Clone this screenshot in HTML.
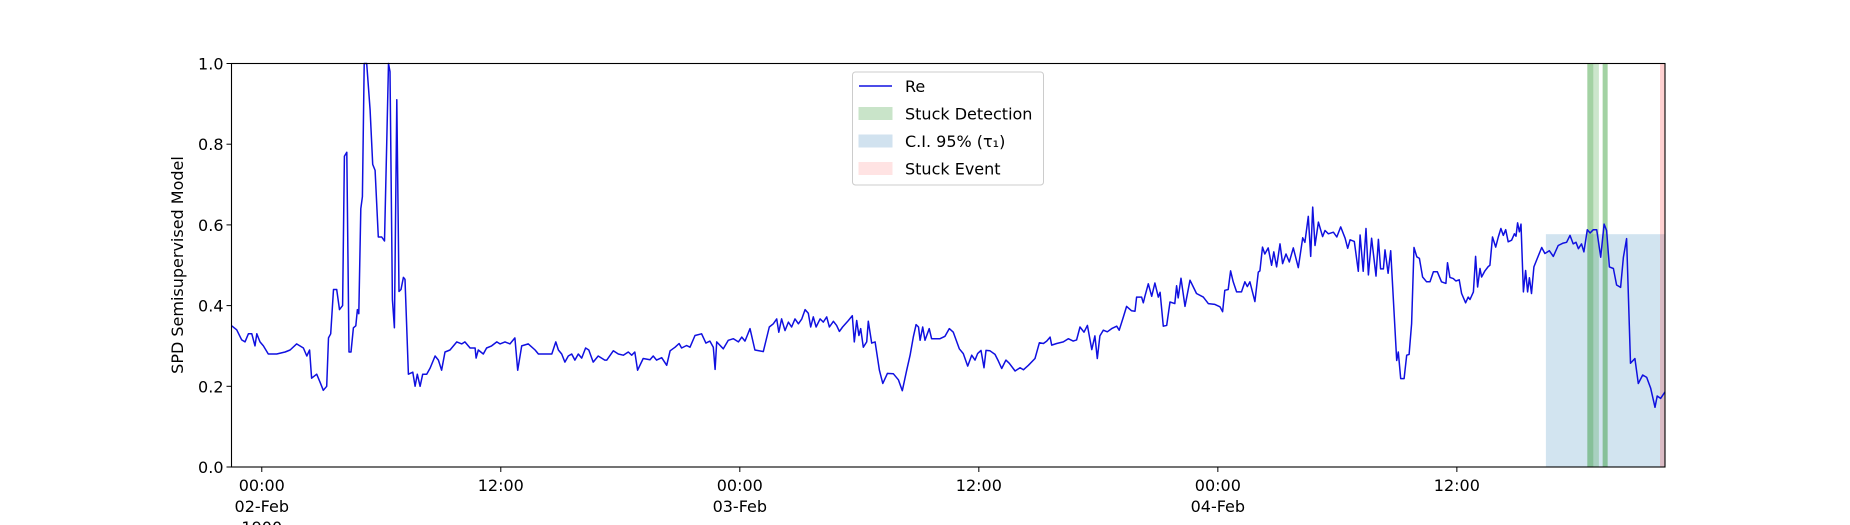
<!DOCTYPE html>
<html><head><meta charset="utf-8"><style>
body{margin:0;background:#fff;}
svg{display:block;font-family:"DejaVu Sans","Liberation Sans",sans-serif;}
</style></head><body>
<svg id="chart" width="1850" height="525" viewBox="0 0 1850 525" xmlns="http://www.w3.org/2000/svg"></svg>
<script>
const times=[-1.51,-1.26,-1.01,-0.84,-0.67,-0.5,-0.34,-0.25,-0.09,0.08,0.33,0.75,1.17,1.42,1.75,2.09,2.26,2.4,2.5,2.76,2.93,3.09,3.26,3.35,3.46,3.6,3.76,3.9,4.06,4.15,4.27,4.38,4.48,4.6,4.72,4.8,4.87,4.97,5.05,5.14,5.27,5.44,5.57,5.69,5.85,6.02,6.16,6.27,6.36,6.44,6.56,6.66,6.78,6.89,6.99,7.11,7.19,7.36,7.58,7.7,7.81,7.95,8.08,8.28,8.45,8.7,8.87,9.03,9.2,9.45,9.79,10.04,10.2,10.46,10.71,10.76,10.87,11.12,11.29,11.54,11.8,11.96,12.21,12.46,12.71,12.85,13.05,13.38,13.72,13.89,14.22,14.56,14.76,14.89,15.06,15.22,15.39,15.56,15.72,15.89,16.06,16.26,16.42,16.64,16.89,17.22,17.32,17.65,17.9,18.15,18.4,18.57,18.73,18.87,19.15,19.49,19.65,19.82,20.08,20.33,20.5,20.75,20.95,21.08,21.33,21.5,21.75,22.08,22.3,22.5,22.67,22.76,22.84,23.17,23.42,23.68,23.93,24.1,24.26,24.51,24.76,25.18,25.48,25.68,25.85,25.96,26.1,26.27,26.44,26.6,26.77,26.94,27.11,27.28,27.44,27.56,27.69,27.83,28.03,28.19,28.36,28.5,28.7,28.86,29.0,29.16,29.45,29.65,29.75,29.87,29.98,30.07,30.2,30.37,30.45,30.62,30.79,31.01,31.18,31.41,31.71,31.96,32.16,32.38,32.55,32.71,32.85,32.97,33.05,33.18,33.3,33.51,33.63,34.05,34.3,34.52,34.72,35.02,35.22,35.44,35.64,35.81,35.94,36.11,36.26,36.36,36.56,36.81,36.98,37.15,37.36,37.53,37.82,38.07,38.24,38.49,38.82,39.04,39.24,39.41,39.58,39.66,39.91,40.24,40.49,40.74,40.91,41.08,41.28,41.45,41.67,41.83,41.95,42.08,42.25,42.45,42.67,42.92,43.05,43.26,43.42,43.67,43.84,43.92,44.17,44.26,44.34,44.51,44.68,44.84,45.01,45.1,45.26,45.43,45.6,45.84,45.93,46.01,46.15,46.35,46.6,46.93,47.27,47.52,47.85,48.11,48.24,48.35,48.52,48.64,48.77,48.94,49.19,49.36,49.48,49.61,49.86,50.03,50.11,50.24,50.36,50.53,50.7,50.81,50.95,51.12,51.25,51.42,51.59,51.79,52.04,52.26,52.37,52.54,52.66,52.76,52.88,53.05,53.26,53.38,53.55,53.8,53.97,54.17,54.39,54.52,54.64,54.85,55.05,55.14,55.3,55.44,55.56,55.72,55.94,56.06,56.17,56.31,56.39,56.55,56.68,56.98,57.06,57.18,57.35,57.48,57.6,57.73,57.85,57.99,58.12,58.28,58.48,58.65,58.82,59.02,59.23,59.45,59.53,59.65,59.82,59.95,60.12,60.24,60.44,60.57,60.66,60.83,60.94,61.04,61.16,61.24,61.41,61.58,61.66,61.79,61.95,62.08,62.21,62.33,62.45,62.58,62.75,62.89,62.97,63.05,63.14,63.22,63.34,63.45,63.55,63.64,63.75,63.87,64.04,64.26,64.42,64.64,64.84,65.09,65.34,65.51,65.68,65.84,65.98,66.1,66.26,66.38,66.55,66.69,66.85,67.02,67.22,67.39,67.52,67.66,67.86,68.02,68.22,68.36,68.52,68.72,68.94,69.11,69.33,69.53,69.73,69.95,70.06,70.23,70.45];
const values=[0.35,0.34,0.315,0.31,0.33,0.33,0.30,0.33,0.31,0.30,0.28,0.28,0.285,0.29,0.305,0.295,0.275,0.29,0.22,0.23,0.21,0.19,0.20,0.32,0.33,0.44,0.44,0.39,0.40,0.77,0.78,0.285,0.285,0.345,0.35,0.39,0.38,0.64,0.67,1.0,1.0,0.885,0.75,0.735,0.57,0.57,0.56,0.80,1.0,0.98,0.415,0.345,0.91,0.435,0.44,0.47,0.465,0.23,0.235,0.20,0.23,0.20,0.23,0.23,0.245,0.275,0.265,0.24,0.285,0.29,0.31,0.305,0.31,0.295,0.295,0.27,0.29,0.28,0.295,0.30,0.31,0.305,0.31,0.305,0.32,0.24,0.30,0.305,0.29,0.28,0.28,0.28,0.31,0.29,0.28,0.26,0.275,0.28,0.265,0.28,0.27,0.295,0.29,0.26,0.275,0.265,0.265,0.288,0.28,0.277,0.285,0.277,0.285,0.24,0.269,0.266,0.275,0.265,0.271,0.252,0.288,0.297,0.306,0.295,0.301,0.297,0.326,0.33,0.307,0.312,0.297,0.242,0.31,0.293,0.314,0.318,0.31,0.322,0.312,0.343,0.29,0.286,0.347,0.355,0.367,0.334,0.367,0.338,0.359,0.347,0.367,0.355,0.367,0.39,0.381,0.347,0.372,0.347,0.367,0.359,0.372,0.347,0.361,0.351,0.336,0.347,0.363,0.375,0.31,0.363,0.326,0.343,0.297,0.31,0.361,0.307,0.31,0.24,0.207,0.232,0.231,0.216,0.189,0.24,0.277,0.322,0.353,0.347,0.314,0.347,0.314,0.343,0.318,0.318,0.324,0.343,0.334,0.293,0.281,0.25,0.277,0.265,0.281,0.289,0.246,0.289,0.288,0.279,0.263,0.244,0.265,0.257,0.238,0.246,0.241,0.252,0.269,0.308,0.306,0.312,0.322,0.302,0.306,0.31,0.318,0.312,0.315,0.347,0.334,0.351,0.291,0.325,0.269,0.325,0.339,0.335,0.343,0.349,0.339,0.372,0.398,0.387,0.386,0.421,0.421,0.407,0.423,0.454,0.423,0.456,0.421,0.433,0.349,0.351,0.409,0.405,0.449,0.419,0.468,0.398,0.463,0.43,0.421,0.405,0.403,0.397,0.385,0.438,0.44,0.486,0.459,0.434,0.434,0.459,0.447,0.459,0.41,0.483,0.486,0.545,0.528,0.543,0.5,0.533,0.496,0.553,0.504,0.528,0.508,0.543,0.494,0.568,0.557,0.621,0.522,0.644,0.549,0.607,0.571,0.586,0.578,0.582,0.57,0.595,0.567,0.542,0.563,0.559,0.485,0.575,0.485,0.591,0.476,0.567,0.473,0.564,0.491,0.491,0.538,0.48,0.536,0.264,0.285,0.219,0.219,0.277,0.279,0.355,0.544,0.521,0.517,0.471,0.459,0.459,0.484,0.484,0.459,0.455,0.506,0.47,0.467,0.461,0.464,0.43,0.407,0.421,0.415,0.434,0.522,0.446,0.492,0.471,0.486,0.497,0.5,0.57,0.545,0.57,0.591,0.574,0.588,0.558,0.562,0.578,0.572,0.605,0.583,0.602,0.434,0.487,0.434,0.469,0.43,0.496,0.517,0.544,0.529,0.536,0.522,0.549,0.555,0.557,0.574,0.553,0.557,0.541,0.553,0.533,0.588,0.58,0.588,0.588,0.52,0.602,0.586,0.496,0.492,0.451,0.445,0.52,0.566,0.257,0.269,0.207,0.228,0.222,0.195,0.148,0.176,0.17,0.186];
const xTicks=[0,12,24,36,48,60];
const xTickLabels=[["00:00","02-Feb","1900"],["12:00"],["00:00","03-Feb"],["12:00"],["00:00","04-Feb"],["12:00"]];
const yTicks=[0,0.2,0.4,0.6,0.8,1.0];
const yTickLabels=["0.0","0.2","0.4","0.6","0.8","1.0"];
const detStarts=[66.55,66.55,67.32,67.32];
const detEnds=[66.85,67.13,67.57,67.57];
const ciStart=64.47, ciEnd=70.45, ciUpper=0.577;
const eventStart=70.2, eventEnd=70.45;
const xMin=-1.52, xMax=70.45;

const L=231.5,R=1665,T=63.5,B=467;
const X=h=>L+(h-xMin)/(xMax-xMin)*(R-L);
const Y=v=>B-v*(B-T);
const svg=document.getElementById('chart');
const NS='http://www.w3.org/2000/svg';
function mk(tag,attrs,parent){const e=document.createElementNS(NS,tag);for(const k in attrs)e.setAttribute(k,attrs[k]);(parent||svg).appendChild(e);return e;}

const ci=mk('rect',{x:X(ciStart),y:Y(ciUpper),width:X(ciEnd)-X(ciStart),height:B-Y(ciUpper),fill:'#1f77b4','fill-opacity':0.2});


for(let i=0;i<detStarts.length;i++){
  const r=mk('rect',{x:X(detStarts[i]),y:T,width:X(detEnds[i])-X(detStarts[i]),height:B-T,fill:'#008000','fill-opacity':0.2});
  
  
}
const ev=mk('rect',{x:X(eventStart),y:T,width:X(eventEnd)-X(eventStart),height:B-T,fill:'#ff0000','fill-opacity':0.18});



let d='';
for(let i=0;i<times.length;i++){d+=(i?'L':'M')+X(times[i]).toFixed(1)+' '+Y(Math.min(values[i],1)).toFixed(1);}
const line=mk('path',{d:d,fill:'none',stroke:'#1010e0','stroke-width':1.5,'stroke-linejoin':'round'});



const frame=mk('rect',{x:L,y:T,width:R-L,height:B-T,fill:'none',stroke:'#000','stroke-width':1.1});



for(let i=0;i<yTicks.length;i++){
  const y=Y(yTicks[i]);
  mk('line',{x1:L-5,x2:L,y1:y,y2:y,stroke:'#000','stroke-width':1});
  const t=mk('text',{x:L-8,y:y+6,'text-anchor':'end','font-size':16,fill:'#000'});
  t.textContent=yTickLabels[i];
  
  
}
for(let i=0;i<xTicks.length;i++){
  const x=X(xTicks[i]);
  mk('line',{x1:x,x2:x,y1:B,y2:B+5,stroke:'#000','stroke-width':1});
  xTickLabels[i].forEach((s,j)=>{
    const t=mk('text',{x:x,y:B+24+j*21,'text-anchor':'middle','font-size':16,fill:'#000'});
    t.textContent=s;
    
    
  });
}
const yl=mk('text',{x:0,y:0,transform:'translate(183,265) rotate(-90)','text-anchor':'middle','font-size':16,fill:'#000'});
yl.textContent='SPD Semisupervised Model';



const lg=mk('g',{});


mk('rect',{x:852.5,y:72,width:191,height:113,rx:3,fill:'#fff','fill-opacity':0.85,stroke:'#ccc','stroke-width':1},lg);
const items=[['Re','line'],['Stuck Detection','#c9e4c9'],['C.I. 95% (τ₁)','#d1e2ef'],['Stuck Event','#ffe3e3']];
items.forEach((it,i)=>{
  const cy=86+i*27.5;
  if(it[1]==='line'){mk('line',{x1:859,x2:892,y1:cy,y2:cy,stroke:'#1010e0','stroke-width':1.5},lg);}
  else{mk('rect',{x:859,y:cy-6,width:33,height:12,fill:it[1],stroke:it[1],'stroke-width':1},lg);}
  const t=mk('text',{x:905,y:cy+6,'font-size':16,fill:'#000'},lg);
  t.textContent=it[0];
  
  
});
</script>
</body></html>
